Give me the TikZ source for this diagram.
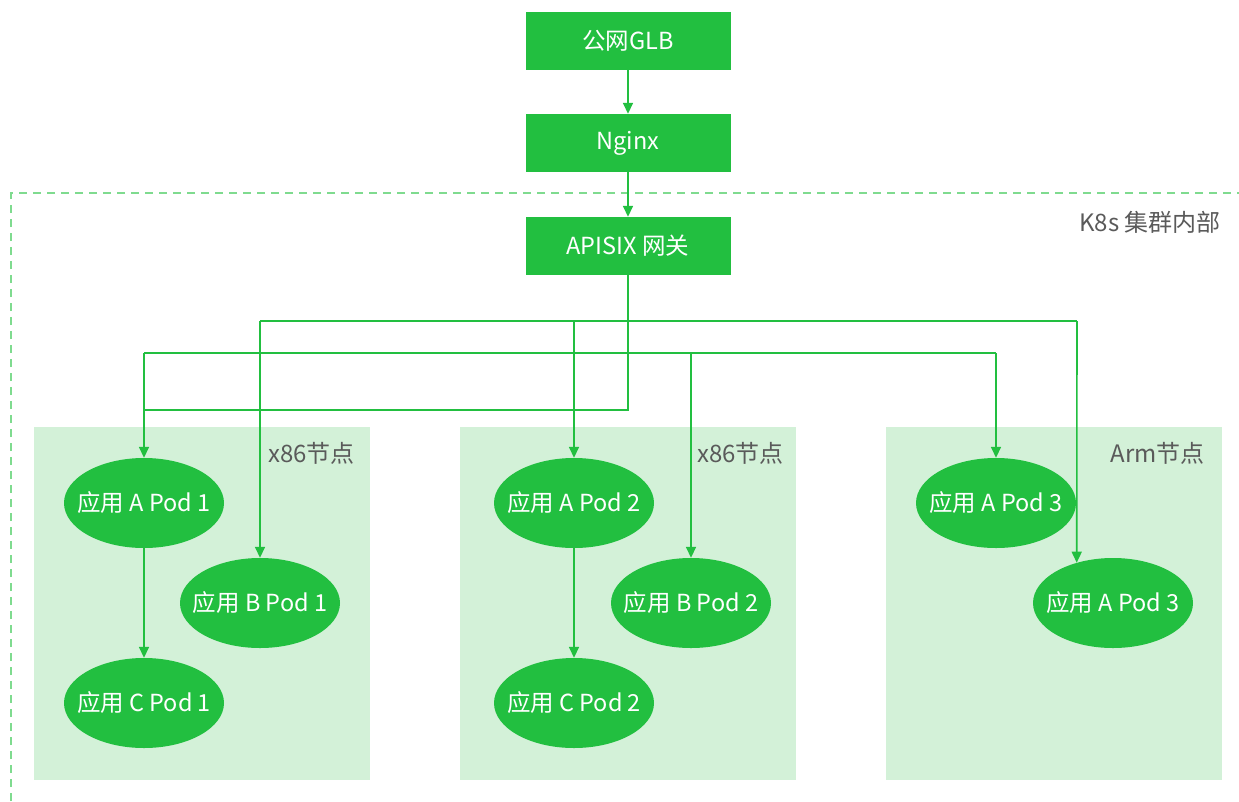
\documentclass[tikz,border=0pt]{standalone}
\usepackage{fontspec}
\setmainfont{Noto Sans CJK SC}
\usetikzlibrary{arrows.meta,shapes.geometric}
\definecolor{gr}{HTML}{22BF40}
\definecolor{lgr}{HTML}{D3F1D8}
\definecolor{dgr}{HTML}{7FDB8F}
\definecolor{tx}{HTML}{5A5A5A}
\begin{document}
\begin{tikzpicture}[x=1pt,y=-1pt,
  box/.style={fill=gr, text=white, minimum width=205pt, minimum height=58pt, inner sep=0pt, font=\fontsize{23.5}{26}\selectfont},
  pod/.style={ellipse, fill=gr, text=white, minimum width=160pt, minimum height=90pt, inner sep=-20pt, font=\fontsize{23.5}{26}\selectfont},
  zone/.style={fill=lgr, minimum width=336pt, minimum height=353pt, inner sep=0pt},
  lab/.style={text=tx, anchor=east, inner sep=0pt, font=\fontsize{24}{27}\selectfont},
  conn/.style={draw=gr, line width=1.6pt},
  arr/.style={conn, -{Triangle[width=10pt,length=11pt]}},
  border/.style={draw=dgr, line width=1.5pt, dash pattern=on 8pt off 6pt}
]
\useasboundingbox (0,0) rectangle (1239,801);
% dashed cluster border
\coordinate (bl) at (11,801);
\coordinate (tl) at (11,193);
\coordinate (tr) at (1239,193);
\draw[border] (bl) -- (tl) -- (tr);
\node[lab] (k8s) at (1221,222) {K8s 集群内部};
% zones
\node[zone] (z1) at (202,603.5) {};
\node[zone] (z2) at (628,603.5) {};
\node[zone] (z3) at (1054,603.5) {};
\node[lab] (l1) at (355,453) {x86节点};
\node[lab] (l2) at (784,453) {x86节点};
\node[lab] (l3) at (1205,453) {Arm节点};
% top boxes
\node[box] (glb) at (628,41) {公网GLB};
\node[box] (ngx) at (628,143) {Nginx};
\node[box] (api) at (628,246) {APISIX 网关};
% pods
\node[pod] (a1) at (144,503) {应用 A Pod 1};
\node[pod] (b1) at (260,603) {应用 B Pod 1};
\node[pod] (c1) at (144,703) {应用 C Pod 1};
\node[pod] (a2) at (574,503) {应用 A Pod 2};
\node[pod] (b2) at (691,603) {应用 B Pod 2};
\node[pod] (c2) at (574,703) {应用 C Pod 2};
\node[pod] (a3) at (996,503) {应用 A Pod 3};
\node[pod] (a3b) at (1113,603) {应用 A Pod 3};
% connectors
\draw[arr] (glb.south) -- (ngx.north);
\draw[arr] (ngx.south) -- (api.north);
\coordinate (r1) at (144,410);
\coordinate (h1l) at (260,321);
\coordinate (h1r) at (1077,321);
\coordinate (h2l) at (144,353);
\coordinate (h2r) at (996,353);
\draw[conn] (h1l) -- (h1r);
\draw[conn] (h2l) -- (h2r);
\draw[conn] (h2l) -- (r1);
\draw[arr] (api.south) |- (r1) -- (a1.north);
\draw[arr] (h1l) -- (b1.north);
\draw[arr] (h1l -| a2) -- (a2.north);
\draw[arr] (h1r) -- (a3b.132);
\draw[arr] (h2l -| b2) -- (b2.north);
\draw[arr] (h2r) -- (a3.north);
\draw[arr] (a1.south) -- (c1.north);
\draw[arr] (a2.south) -- (c2.north);
\end{tikzpicture}
\end{document}
